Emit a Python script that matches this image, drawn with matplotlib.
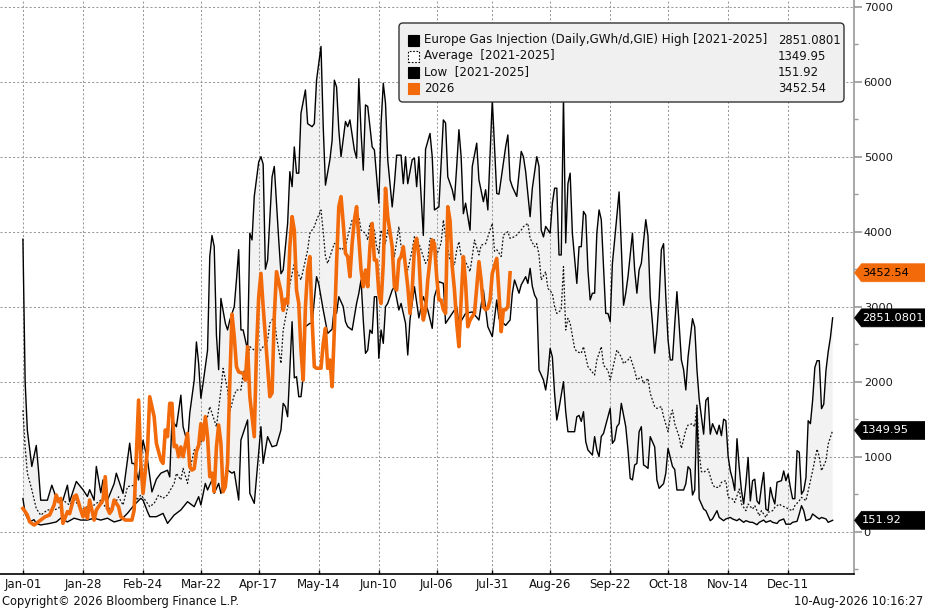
import datetime as dt
import matplotlib
matplotlib.use("Agg")
import matplotlib.pyplot as plt
import matplotlib.transforms as mtransforms
from matplotlib.patches import FancyBboxPatch, Rectangle, Polygon

plt.rcParams['font.family'] = ['DejaVu Sans']

YEAR = 2026

# (day of year index, GWh/d)
high_2021_2025 = [(0,3900),(1,2000),(2,1350),(4,870),(6,1150),(7,820),(8,420),(11,420),(13,620),(15,450),(18,420),(20,620),(21,400),(24,670),(27,560),(29,470),(30,560),(32,420),(33,870),(35,520),(36,690),(38,420),(41,640),(42,780),(45,510),(48,1180),(49,910),(50,910),(52,690),(54,1220),(56,960),(58,530),(60,700),(62,780),(65,820),(66,730),(67,1490),(69,1400),(71,1820),(72,1400),(74,1180),(75,1580),(77,2020),(78,2530),(79,2240),(80,1780),(81,1980),(83,2420),(84,3670),(85,3950),(86,3800),(87,2620),(88,2160),(89,3110),(91,2780),(92,2690),(93,2820),(95,3000),(96,3360),(97,3760),(98,2690),(99,2690),(101,2420),(102,3980),(103,3890),(104,4470),(106,4930),(107,5000),(108,4900),(109,3500),(110,3620),(112,4730),(113,4870),(115,3890),(116,3440),(117,3490),(119,4110),(120,4800),(121,4600),(122,5130),(123,4780),(124,4780),(125,5580),(127,5890),(128,5440),(130,5400),(131,5440),(132,6020),(134,6470),(135,5400),(136,4620),(138,4960),(139,5220),(140,6020),(141,5930),(142,5360),(143,5000),(145,5470),(146,5400),(147,5490),(149,5090),(150,4980),(151,6040),(152,5330),(153,4820),(154,5690),(155,5670),(157,5130),(158,5090),(159,4730),(160,4380),(161,5440),(162,5980),(163,5710),(164,4960),(166,4330),(167,4640),(168,5020),(170,5020),(171,4640),(172,5000),(173,4640),(175,4960),(176,4980),(177,4600),(178,5000),(180,3950),(181,5100),(183,5310),(184,5000),(185,4290),(187,4330),(189,5490),(190,5450),(191,4730),(193,4560),(194,4420),(195,4870),(196,5360),(197,5000),(198,4240),(199,4380),(201,4020),(202,4870),(204,5180),(205,4690),(207,4400),(208,4560),(209,4290),(211,5760),(212,5130),(213,4510),(214,4500),(217,5130),(218,5290),(219,4690),(220,4600),(222,4470),(224,5070),(225,5000),(226,4800),(228,4200),(229,4580),(231,5000),(232,4870),(233,4020),(234,3930),(235,4070),(237,3980),(238,4380),(239,4580),(240,4580),(241,3690),(242,3690),(243,5800),(244,3850),(245,4640),(246,4780),(247,3980),(249,3310),(250,3800),(251,3800),(252,4270),(253,4220),(254,3490),(255,3090),(256,3180),(257,3180),(258,3980),(259,4290),(260,4160),(262,2910),(263,2910),(264,2800),(265,3580),(266,3890),(268,4530),(269,3800),(270,3020),(271,3180),(272,3400),(274,3980),(275,3490),(276,3180),(277,3490),(278,3580),(280,4160),(281,3940),(282,3130),(283,2780),(284,2380),(285,2670),(286,3110),(287,3760),(288,3840),(289,3130),(290,2560),(291,2290),(292,2290),(293,2760),(294,3200),(295,2760),(296,2290),(297,2160),(298,1890),(299,2330),(301,2840),(302,2730),(303,2160),(304,1770),(306,1300),(307,1750),(308,1790),(309,1300),(310,1440),(312,1300),(313,1420),(314,1280),(315,1500),(316,1480),(317,1010),(318,810),(319,700),(320,550),(321,1240),(322,860),(323,550),(324,370),(325,640),(326,990),(327,410),(328,680),(329,700),(330,410),(331,370),(332,600),(333,790),(334,300),(335,280),(336,590),(337,460),(338,370),(339,660),(341,680),(342,810),(343,680),(344,770),(345,590),(346,440),(347,440),(348,1080),(349,1060),(350,500),(351,550),(352,720),(353,1480),(354,1440),(355,1750),(356,2190),(357,2280),(358,2280),(359,1640),(360,1700),(361,2150),(362,2400),(363,2590),(364,2851.08)]

low_2021_2025 = [(0,440),(1,245),(2,180),(3,130),(5,160),(6,110),(8,90),(12,110),(15,130),(17,180),(20,130),(23,180),(26,155),(29,155),(32,180),(35,155),(38,180),(41,130),(44,155),(47,245),(50,355),(53,445),(54,420),(56,267),(57,200),(60,200),(63,244),(65,111),(68,222),(71,290),(74,400),(77,333),(79,467),(80,356),(82,644),(83,556),(85,690),(86,511),(88,644),(89,510),(92,822),(94,780),(95,800),(97,422),(98,1222),(101,1490),(102,511),(104,378),(107,1400),(108,911),(110,1267),(112,1133),(114,1150),(116,1356),(117,1711),(118,1667),(119,1533),(121,2800),(122,2050),(123,2067),(124,1800),(125,1800),(126,2067),(127,2733),(129,2778),(130,2778),(132,3400),(133,3300),(135,2956),(137,2644),(139,2700),(140,3000),(141,2911),(142,3133),(144,3000),(145,2800),(146,2733),(148,2689),(150,3044),(151,3178),(152,3356),(153,2822),(154,2378),(155,2420),(156,2689),(157,2644),(158,3133),(159,3133),(160,2311),(161,2689),(162,2511),(163,3000),(164,3044),(166,3220),(167,3267),(169,2956),(170,3044),(172,2778),(173,2356),(174,2822),(176,3267),(178,2850),(180,3133),(182,2956),(184,2711),(185,3133),(187,3333),(189,3311),(190,2778),(192,2867),(195,3000),(196,2756),(199,2911),(202,2930),(205,2822),(207,3222),(209,2733),(210,2667),(211,2600),(213,3089),(214,2840),(217,2750),(219,2822),(220,3178),(221,3356),(223,3180),(224,3290),(226,3400),(227,3310),(228,3511),(229,3270),(230,3156),(231,3100),(232,2156),(234,2022),(235,1889),(236,2100),(237,2444),(238,2330),(239,1844),(240,1489),(241,1644),(243,2000),(244,1600),(245,1333),(248,1333),(249,1533),(250,1550),(251,1470),(252,1600),(253,1200),(254,1089),(256,1022),(257,1267),(258,1089),(259,1000),(260,1270),(261,1310),(262,1422),(264,1644),(265,1178),(266,1220),(267,1400),(268,1440),(269,1711),(271,1400),(272,1089),(273,711),(274,690),(275,889),(276,910),(277,1333),(278,1400),(279,889),(280,870),(281,844),(282,1267),(283,1200),(284,1130),(285,689),(286,578),(288,640),(289,780),(290,1111),(292,870),(293,830),(294,556),(295,556),(297,556),(298,640),(299,867),(300,830),(301,489),(302,556),(303,1667),(304,436),(306,302),(307,280),(309,147),(310,170),(312,280),(313,190),(315,147),(316,170),(318,190),(319,170),(321,147),(322,170),(324,125),(325,147),(327,125),(328,125),(330,93),(331,125),(333,155),(334,125),(336,147),(337,125),(339,110),(340,147),(342,170),(343,100),(345,100),(346,125),(348,138),(349,236),(350,347),(351,280),(352,147),(354,170),(355,236),(357,190),(358,170),(359,190),(361,170),(362,125),(364,151.92)]

avg_2021_2025 = [(0,1620),(1,1130),(2,780),(4,560),(6,310),(8,220),(11,290),(14,290),(16,310),(18,420),(21,355),(23,445),(26,290),(29,333),(32,355),(35,420),(38,290),(41,355),(43,465),(45,355),(47,600),(50,620),(51,420),(53,490),(55,420),(57,333),(59,378),(61,490),(63,445),(65,490),(68,644),(69,778),(71,690),(72,844),(74,645),(75,820),(77,1089),(80,1178),(81,1400),(83,1533),(84,1667),(86,1490),(87,1400),(89,1889),(90,2178),(92,1890),(93,1600),(95,1822),(96,1889),(98,1889),(99,2111),(101,2240),(102,2467),(104,2420),(107,2422),(108,2467),(110,2550),(111,2780),(113,2867),(114,2600),(116,2244),(117,2689),(119,3000),(120,3300),(122,3578),(123,3490),(125,3356),(126,3490),(128,3756),(129,3978),(131,4067),(132,4156),(134,4289),(135,4000),(136,3667),(137,3578),(139,3756),(140,3844),(142,3800),(143,3756),(145,3800),(146,3933),(148,4156),(149,4156),(151,4200),(152,4022),(154,3978),(155,3890),(156,4111),(158,4022),(159,3800),(160,3711),(161,4022),(163,3844),(164,4022),(166,3844),(167,3667),(169,4067),(170,3800),(172,3580),(173,3489),(175,3756),(176,3933),(178,3844),(179,3756),(181,3578),(182,3622),(183,3911),(185,3890),(186,3690),(188,3850),(189,4156),(190,3933),(192,3620),(194,3556),(195,3756),(196,3867),(197,3670),(199,3600),(201,3467),(202,3670),(203,3889),(205,3690),(206,3820),(208,3840),(209,3930),(211,4111),(212,3740),(213,3760),(215,3670),(216,3956),(218,4000),(219,3911),(221,3933),(222,3956),(224,4022),(225,4067),(227,4111),(228,3911),(230,3800),(231,3840),(232,3689),(233,3356),(235,3467),(236,3244),(238,3178),(239,3000),(240,2910),(242,2956),(243,3533),(244,2689),(245,2844),(246,2780),(248,2444),(249,2400),(251,2380),(252,2467),(253,2330),(254,2200),(257,2089),(258,2290),(260,2467),(261,2220),(263,2150),(264,2022),(266,2290),(267,2422),(269,2330),(270,2240),(272,2290),(273,2330),(274,2240),(275,2150),(276,2022),(278,2067),(279,1978),(281,2044),(282,1844),(284,1667),(285,1644),(287,1667),(288,1533),(290,1333),(291,1533),(292,1622),(293,1440),(295,1267),(296,1111),(298,1356),(299,1422),(301,1440),(302,1400),(303,1689),(304,1050),(305,800),(306,791),(308,836),(310,636),(311,591),(313,591),(314,658),(315,671),(316,680),(317,458),(319,436),(320,391),(322,569),(323,369),(325,280),(326,369),(328,302),(329,347),(331,213),(332,280),(334,191),(335,258),(337,280),(338,324),(340,369),(341,347),(343,324),(344,302),(346,280),(347,347),(349,413),(350,458),(352,413),(354,680),(355,813),(357,1102),(358,1000),(359,813),(361,947),(362,1169),(364,1349.95)]

injection_2026 = [(0,310),(2,222),(3,133),(5,89),(6,110),(8,155),(10,200),(12,222),(14,355),(15,489),(16,400),(17,444),(18,111),(20,267),(21,240),(22,355),(23,467),(24,489),(26,289),(27,200),(28,311),(29,178),(30,422),(32,155),(33,289),(35,378),(36,422),(37,733),(38,311),(39,244),(40,289),(41,422),(43,333),(44,200),(46,155),(49,155),(50,289),(52,1755),(53,911),(54,511),(56,1089),(57,1800),(59,1533),(60,1178),(62,956),(63,911),(64,1356),(65,1267),(66,1711),(67,1711),(68,1133),(69,1150),(70,1000),(71,1130),(72,1000),(74,1311),(75,867),(76,822),(77,840),(78,1070),(79,1150),(80,1440),(81,1222),(82,1533),(83,1270),(84,733),(85,780),(86,533),(87,1133),(88,1422),(89,1180),(90,533),(91,600),(92,911),(93,2000),(94,2900),(95,2600),(96,2200),(97,2130),(99,2111),(100,2020),(101,2467),(102,1800),(104,1267),(105,2422),(106,3133),(107,3444),(108,3000),(110,2200),(111,1800),(112,1850),(113,2867),(114,3467),(116,3200),(117,2950),(118,3100),(119,3044),(120,3800),(121,4200),(122,4020),(123,3222),(124,3044),(125,2422),(126,2022),(127,3000),(128,3489),(129,3667),(130,2822),(131,2200),(132,2180),(134,2180),(135,2511),(136,2711),(137,2178),(138,2289),(139,1933),(140,2689),(141,3578),(142,4333),(143,4467),(144,4111),(145,3711),(146,3667),(147,3400),(148,3844),(149,4156),(150,4333),(152,3489),(153,3267),(154,3489),(155,3267),(156,3800),(157,4111),(158,3622),(159,3622),(160,3178),(161,3044),(162,3578),(163,4578),(164,4200),(166,3800),(167,3267),(168,3222),(169,3622),(170,3667),(171,3800),(173,3267),(174,2911),(175,3222),(176,3800),(177,3911),(178,3667),(179,3089),(180,2822),(181,2956),(182,3356),(184,3889),(185,3840),(186,3400),(187,3090),(188,3089),(189,2960),(190,2911),(191,4333),(192,4150),(193,3533),(194,3222),(195,2778),(196,2467),(197,3090),(198,3667),(199,3310),(200,2733),(201,2820),(202,2870),(203,2911),(204,3260),(205,3600),(206,3350),(207,3000),(208,2960),(209,2980),(210,3089),(211,3444),(213,3644),(214,3180),(215,2667),(216,2960),(217,2960),(218,3000),(219,3452.54)]

x_tick_labels = ["Jan-01", "Jan-28", "Feb-24", "Mar-22", "Apr-17", "May-14", "Jun-10",
                 "Jul-06", "Jul-31", "Aug-26", "Sep-22", "Oct-18", "Nov-14", "Dec-11"]
y_major_ticks = [0, 1000, 2000, 3000, 4000, 5000, 6000, 7000]
y_minor_ticks = [-500, 500, 1500, 2500, 3500, 4500, 5500, 6500]

legend_labels = ["Europe Gas Injection (Daily,GWh/d,GIE) High [2021-2025]",
                 "Average  [2021-2025]", "Low  [2021-2025]", "2026"]
legend_values = ["2851.0801", "1349.95", "151.92", "3452.54"]

ORANGE = "#f26a0a"
FILL = "#f2f2f2"

W, H = 925, 610
fig = plt.figure(figsize=(W / 100, H / 100), dpi=100)
fig.patch.set_facecolor("white")
ax = fig.add_axes([0, 36 / H, 854 / W, 574 / H])
ax.set_xlim(-10.3, 373.6)
ax.set_ylim(-564, 7089)


def split(pairs):
    return [p[0] for p in pairs], [p[1] for p in pairs]


hx, hy = split(high_2021_2025)
lx, ly = split(low_2021_2025)
mx, my = split(avg_2021_2025)
ox, oy = split(injection_2026)

ax.fill(hx + lx[::-1], hy + ly[::-1], color=FILL, lw=0, zorder=1)
ax.plot(hx, hy, color="black", lw=1.0, zorder=3)
ax.plot(lx, ly, color="black", lw=1.0, zorder=3)
ax.plot(mx, my, color="#111111", lw=0.9, ls=(0, (1.5, 1.5)), zorder=3)
ax.plot(ox, oy, color=ORANGE, lw=2.6, zorder=4, solid_joinstyle="round")

# x axis
tick_days = [dt.datetime.strptime(f"{lbl}-{YEAR}", "%b-%d-%Y").timetuple().tm_yday - 1
             for lbl in x_tick_labels]
ax.set_xticks(tick_days)
ax.set_xticklabels(x_tick_labels)
ax.tick_params(axis="x", direction="in", length=3, width=1, color="black",
               labelsize=8.5, pad=3, labelcolor="#111111")

# y axis on right
ax.yaxis.tick_right()
ax.set_yticks(y_major_ticks)
ax.set_yticks(y_minor_ticks, minor=True)
ax.set_yticklabels([str(v) for v in y_major_ticks])
ax.tick_params(axis="y", which="major", direction="out", length=6, width=1.2,
               color="#999999", labelsize=8.2, pad=1, labelcolor="#1a1a1a")
ax.tick_params(axis="y", which="minor", direction="out", length=3, width=1,
               color="#999999")

ax.grid(True, which="major", color="#999999", ls=(0, (2, 2)), lw=0.75)
ax.set_axisbelow("line")

for s in ["left", "top"]:
    ax.spines[s].set_visible(False)
ax.spines["right"].set_color("#999999")
ax.spines["right"].set_linewidth(1.2)
ax.spines["bottom"].set_color("black")
ax.spines["bottom"].set_linewidth(1.2)

ident = mtransforms.IdentityTransform()

# value tags on the right axis
tag_specs = [(legend_values[3], oy[-1], ORANGE, "black"),
             (legend_values[0], hy[-1], "black", "white"),
             (legend_values[1], my[-1], "black", "white"),
             (legend_values[2], ly[-1], "black", "white")]
x_axis_px = 854.5
for txt, val, fc, tc in tag_specs:
    yc = ax.transData.transform((0, val))[1]
    poly = Polygon([(x_axis_px, yc), (x_axis_px + 7, yc + 9), (W, yc + 9),
                    (W, yc - 9), (x_axis_px + 7, yc - 9)], closed=True,
                   facecolor=fc, edgecolor=fc, lw=0.5, transform=ident, zorder=10)
    fig.add_artist(poly)
    fig.text(862 / W, yc / H, txt, color=tc, fontsize=8.2, va="center", ha="left",
             zorder=11)

# legend box
box = FancyBboxPatch((399, H - 102), 445, 79,
                     boxstyle="round,pad=0,rounding_size=4",
                     facecolor="#f0f0f0", edgecolor="#333333", lw=1.0,
                     transform=ident, zorder=20)
fig.add_artist(box)
row_y = [40, 56, 72, 88]
sw_fc = ["black", "white", "black", ORANGE]
sw_ls = ["-", (0, (1.5, 1.5)), "-", "-"]
sw_ec = ["black", "black", "black", ORANGE]
for i, lbl in enumerate(legend_labels):
    yc = H - row_y[i]
    sq = Rectangle((408, yc - 5.5), 11, 11, facecolor=sw_fc[i], edgecolor=sw_ec[i],
                   lw=0.8, ls=sw_ls[i], transform=ident, zorder=21)
    fig.add_artist(sq)
    fig.text(424 / W, yc / H, lbl, fontsize=8.6, va="center", ha="left",
             color="#111111", zorder=22)
    fig.text(778 / W, yc / H, legend_values[i], fontsize=8.4, va="center", ha="left",
             color="#111111", zorder=22)

fig.text(2 / W, 1 - 601 / H, "Copyright\u00a9 2026 Bloomberg Finance L.P.",
         fontsize=8.3, va="center", ha="left", color="#111111")
fig.text(923 / W, 1 - 601 / H, "10-Aug-2026 10:16:27",
         fontsize=8.3, va="center", ha="right", color="#111111")

fig.savefig("out.png", dpi=100, facecolor="white")
